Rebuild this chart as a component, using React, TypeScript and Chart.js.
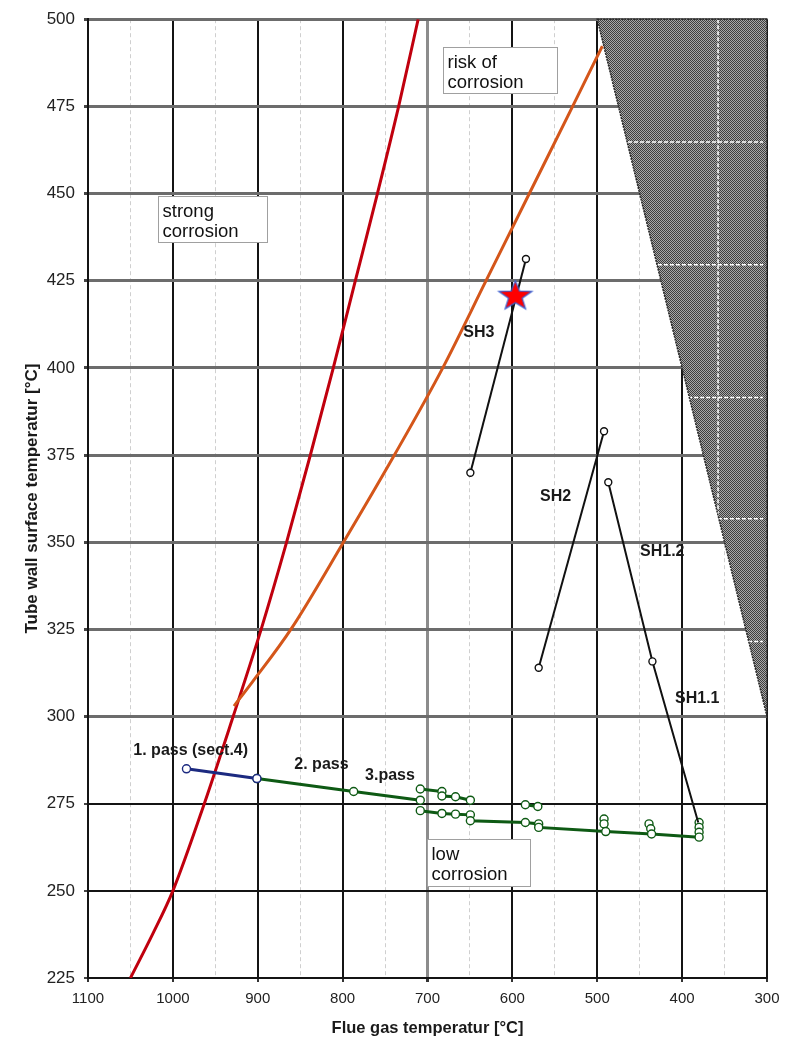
import React, { useEffect, useRef } from 'react';
import { Chart, registerables } from 'chart.js';

Chart.register(...registerables);

// ---- data (flue gas temperature °C , tube wall temperature °C) ----
const RED_X = [1050, 1024, 1000, 963, 929, 896, 866, 838, 811, 785, 759, 734, 711];
const RED_Y = [225, 237.5, 250, 275, 300, 325, 350, 375, 400, 425, 450, 475, 500];

const ORANGE_X = [928, 906, 861, 799, 739, 682, 631, 580, 529, 494];
const ORANGE_Y = [303, 310, 325, 350, 375, 400, 425, 450, 475, 492.3];

const PASS1_X = [984, 901];
const PASS1_Y = [285, 282.2];

const PASS2_X = [901, 787, 708.5];
const PASS2_Y = [282.2, 278.5, 276.0];

const PASS3_UP_X = [708.5, 683, 683, 667, 649.5];
const PASS3_UP_Y = [279.2, 278.5, 277.2, 277.0, 276.0];

const PASS3_LOW_X = [708.5, 683, 667, 649.5, 649.5, 584.7, 569, 569, 490, 436, 380];
const PASS3_LOW_Y = [273.0, 272.2, 272.0, 271.8, 270.1, 269.6, 269.2, 268.2, 267.0, 266.3, 265.4];

const PASS3_MID_X = [584.7, 570];
const PASS3_MID_Y = [274.7, 274.2];

const EXTRA_X = [492, 492, 439, 437, 380, 380, 380];
const EXTRA_Y = [270.6, 269.2, 269.2, 267.8, 269.6, 268.2, 266.8];

const SH3_X = [649.5, 584];
const SH3_Y = [369.9, 431.2];

const SH2_X = [569, 492];
const SH2_Y = [314, 381.8];

const SH1_X = [487, 435, 381];
const SH1_Y = [367.2, 315.8, 269.6];

const STAR_X = [596.5];
const STAR_Y = [421];

const HATCH_X = [500, 300, 300];
const HATCH_Y = [500, 500, 300];
const HATCH_GRID_X = [357.7];
const HATCH_GRID_Y = [464.8, 429.6, 391.5, 356.7, 321.5];

const X_MIN = 300;
const X_MAX = 1100;
const Y_MIN = 225;
const Y_MAX = 500;

const X_TITLE = 'Flue gas temperatur [°C]';
const Y_TITLE = 'Tube wall surface temperatur [°C]';

const BOX_LABELS = [
  { lines: ['strong', 'corrosion'], x0: 1017.5, y0: 449.2, x1: 889, y1: 436.0 },
  { lines: ['risk of', 'corrosion'], x0: 681.7, y0: 492, x1: 547.4, y1: 478.9 },
  { lines: ['low', 'corrosion'], x0: 700.6, y0: 265.0, x1: 579.2, y1: 251.3 },
];

const TEXT_LABELS = [
  { text: '1. pass (sect.4)', x: 1046.6, y: 290.3 },
  { text: '2. pass', x: 856.9, y: 286.3 },
  { text: '3.pass', x: 773.6, y: 283.0 },
  { text: 'SH3', x: 657.8, y: 410.0 },
  { text: 'SH2', x: 567.5, y: 363.1 },
  { text: 'SH1.2', x: 449.6, y: 347.2 },
  { text: 'SH1.1', x: 408.4, y: 305.0 },
];

const FONT = "'Liberation Sans', Arial, sans-serif";

const pts = (xs: number[], ys: number[]) => xs.map((x, i) => ({ x, y: ys[i] }));

function makeStar(): HTMLCanvasElement {
  const c = document.createElement('canvas');
  c.width = 38;
  c.height = 34;
  const g = c.getContext('2d')!;
  const cx = 19;
  const cy = 18.5;
  const R = 15.5;
  const r = 6.4;
  g.beginPath();
  for (let i = 0; i < 10; i++) {
    const a = -Math.PI / 2 + (i * Math.PI) / 5;
    const rr = i % 2 ? r : R;
    const px = cx + rr * Math.cos(a) * 1.12;
    const py = cy + rr * Math.sin(a);
    if (i === 0) g.moveTo(px, py);
    else g.lineTo(px, py);
  }
  g.closePath();
  g.fillStyle = '#ff0000';
  g.fill();
  g.strokeStyle = '#3a5fd0';
  g.lineWidth = 1.2;
  g.stroke();
  return c;
}

function makePattern(ctx: CanvasRenderingContext2D): CanvasPattern {
  const c = document.createElement('canvas');
  c.width = 2;
  c.height = 2;
  const g = c.getContext('2d')!;
  g.fillStyle = '#a8a8a8';
  g.fillRect(0, 0, 2, 2);
  g.fillStyle = '#3e3e3e';
  g.fillRect(0, 0, 1, 1);
  g.fillRect(1, 1, 1, 1);
  return ctx.createPattern(c, 'repeat')!;
}

export default function App() {
  const ref = useRef<HTMLCanvasElement>(null);

  useEffect(() => {
    const canvas = ref.current!;
    const ctx0 = canvas.getContext('2d')!;
    const star = makeStar();
    const pattern = makePattern(ctx0);

    const lineDs = (data: any[], color: string, width: number, radius: number | number[]) => ({
      data,
      showLine: true,
      borderColor: color,
      backgroundColor: '#ffffff',
      borderWidth: width,
      pointRadius: radius,
      pointBorderColor: color,
      pointBackgroundColor: '#ffffff',
      pointBorderWidth: 1.4,
      tension: 0,
      fill: false,
    });

    const overlay = {
      id: 'overlay',
      beforeDatasetsDraw(chart: any) {
        const { ctx, chartArea, scales } = chart;
        const xs = scales.x;
        const ys = scales.y;
        const path = () => {
          ctx.beginPath();
          HATCH_X.forEach((v, i) => {
            const px = xs.getPixelForValue(v);
            const py = ys.getPixelForValue(HATCH_Y[i]);
            if (i === 0) ctx.moveTo(px, py);
            else ctx.lineTo(px, py);
          });
          ctx.closePath();
        };
        ctx.save();
        path();
        ctx.fillStyle = pattern;
        ctx.fill();
        ctx.save();
        path();
        ctx.clip();
        ctx.strokeStyle = '#ffffff';
        ctx.lineWidth = 1.5;
        ctx.setLineDash([4, 2]);
        HATCH_GRID_Y.forEach((v) => {
          const py = ys.getPixelForValue(v);
          ctx.beginPath();
          ctx.moveTo(chartArea.left, py);
          ctx.lineTo(chartArea.right - 4, py);
          ctx.stroke();
        });
        HATCH_GRID_X.forEach((v) => {
          const px = xs.getPixelForValue(v);
          ctx.beginPath();
          ctx.moveTo(px, chartArea.top);
          ctx.lineTo(px, chartArea.bottom);
          ctx.stroke();
        });
        ctx.restore();
        path();
        ctx.setLineDash([2, 1]);
        ctx.strokeStyle = '#2a2a2a';
        ctx.lineWidth = 1.5;
        ctx.stroke();
        ctx.restore();
      },
      afterDatasetsDraw(chart: any) {
        const { ctx, scales } = chart;
        const xs = scales.x;
        const ys = scales.y;
        ctx.save();
        BOX_LABELS.forEach((b) => {
          const l = Math.round(xs.getPixelForValue(b.x0)) + 0.5;
          const t = Math.round(ys.getPixelForValue(b.y0)) + 0.5;
          const r = Math.round(xs.getPixelForValue(b.x1)) + 0.5;
          const bt = Math.round(ys.getPixelForValue(b.y1)) + 0.5;
          ctx.fillStyle = '#ffffff';
          ctx.fillRect(l, t, r - l, bt - t);
          ctx.strokeStyle = '#a0a0a0';
          ctx.lineWidth = 1;
          ctx.setLineDash([]);
          ctx.strokeRect(l, t, r - l, bt - t);
          ctx.fillStyle = '#111111';
          ctx.font = `18.5px ${FONT}`;
          ctx.textAlign = 'left';
          ctx.textBaseline = 'middle';
          b.lines.forEach((line, i) => {
            ctx.fillText(line, l + 4, t + 15 + i * 20);
          });
        });
        ctx.font = `bold 16px ${FONT}`;
        ctx.fillStyle = '#1a1a1a';
        ctx.textAlign = 'left';
        ctx.textBaseline = 'middle';
        TEXT_LABELS.forEach((lb) => {
          ctx.fillText(lb.text, xs.getPixelForValue(lb.x), ys.getPixelForValue(lb.y));
        });
        ctx.restore();
      },
    };

    const isMinor = (c: any) => c.tick && Math.round(c.tick.value) % 100 !== 0;

    const chart = new Chart(canvas, {
      type: 'scatter',
      data: {
        datasets: [
          {
            data: pts(STAR_X, STAR_Y),
            pointStyle: star as any,
            pointRadius: 15,
            showLine: false,
          } as any,
          lineDs(pts(SH3_X, SH3_Y), '#111111', 2, 3.5),
          lineDs(pts(SH2_X, SH2_Y), '#111111', 2, 3.5),
          lineDs(pts(SH1_X, SH1_Y), '#111111', 2, [3.5, 3.5, 0]),
          lineDs(pts(PASS1_X, PASS1_Y), '#1c2a80', 3, 4),
          lineDs(pts(PASS2_X, PASS2_Y), '#0e5a14', 3, 4),
          lineDs(pts(PASS3_UP_X, PASS3_UP_Y), '#0e5a14', 3, 4),
          lineDs(pts(PASS3_LOW_X, PASS3_LOW_Y), '#0e5a14', 3, 4),
          lineDs(pts(PASS3_MID_X, PASS3_MID_Y), '#0e5a14', 3, 4),
          { ...lineDs(pts(EXTRA_X, EXTRA_Y), '#0e5a14', 3, 4), showLine: false },
          { ...lineDs(pts(ORANGE_X, ORANGE_Y), '#d4561a', 3, 0), cubicInterpolationMode: 'monotone' },
          { ...lineDs(pts(RED_X, RED_Y), '#c0000e', 3, 0), cubicInterpolationMode: 'monotone' },
        ],
      },
      options: {
        responsive: false,
        maintainAspectRatio: false,
        animation: false,
        events: [],
        layout: { padding: { top: 15, right: 26, left: 0, bottom: 0 } },
        plugins: { legend: { display: false }, tooltip: { enabled: false } },
        scales: {
          x: {
            type: 'linear',
            min: X_MIN,
            max: X_MAX,
            reverse: true,
            afterFit: (s: any) => {
              s.height = 67;
            },
            ticks: {
              stepSize: 50,
              autoSkip: false,
              maxRotation: 0,
              padding: 8,
              color: '#222',
              font: { family: FONT, size: 15 },
              callback: (v: any) => (Math.round(v) % 100 === 0 ? String(v) : ''),
            },
            grid: {
              color: (c: any) => {
                if (isMinor(c)) return '#cfcfcf';
                if (c.tick && c.tick.value === 700) return '#8c8c8c';
                return '#141414';
              },
              lineWidth: (c: any) => {
                if (isMinor(c)) return 1;
                if (c.tick && c.tick.value === 700) return 3;
                return 2;
              },
              tickColor: (c: any) => (isMinor(c) ? 'rgba(0,0,0,0)' : '#333'),
              tickLength: 4,
            },
            border: {
              display: true,
              color: '#141414',
              width: 2,
              dash: (c: any) => (isMinor(c) ? [4, 3] : []),
            },
            title: {
              display: true,
              text: X_TITLE,
              color: '#1a1a1a',
              font: { family: FONT, size: 16.5, weight: 'bold' },
              padding: { top: 4, bottom: 7 },
            },
          },
          y: {
            type: 'linear',
            min: Y_MIN,
            max: Y_MAX,
            afterFit: (s: any) => {
              s.width = 88;
            },
            ticks: {
              stepSize: 25,
              padding: 9,
              color: '#222',
              font: { family: FONT, size: 17 },
            },
            grid: {
              color: (c: any) => (c.tick && c.tick.value >= 300 ? '#6c6c6c' : '#141414'),
              lineWidth: (c: any) => (c.tick && c.tick.value >= 300 ? 3 : 2),
              tickColor: '#444',
              tickLength: 4,
            },
            border: { display: true, color: '#141414', width: 2 },
            title: {
              display: true,
              text: Y_TITLE,
              color: '#1a1a1a',
              font: { family: FONT, size: 17, weight: 'bold' },
              padding: { top: 22, bottom: 0 },
            },
          },
        },
      },
      plugins: [overlay as any],
    } as any);

    return () => chart.destroy();
  }, []);

  return (
    <div style={{ position: 'absolute', left: 0, top: 0, width: 793, height: 1045, background: '#ffffff' }}>
      <canvas ref={ref} width={793} height={1045} style={{ display: 'block' }} />
    </div>
  );
}
